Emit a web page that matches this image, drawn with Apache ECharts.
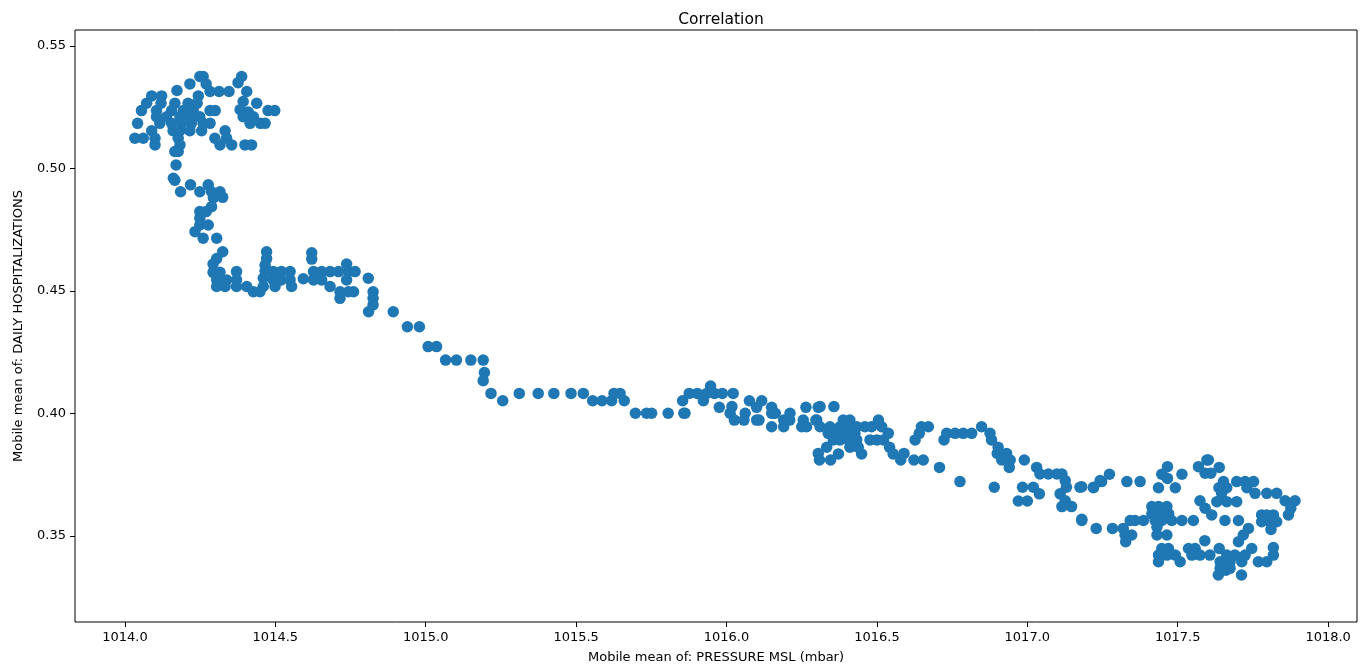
<!DOCTYPE html>
<html>
<head>
<meta charset="utf-8">
<script src="https://cdn.jsdelivr.net/npm/echarts@6/dist/echarts.min.js"></script>
<style>html,body{margin:0;padding:0;background:#fff}#c{width:1366px;height:671px}</style>
</head>
<body>
<div id="c"></div>
<script>
const titleText = "Correlation";
const xName = "Mobile mean of: PRESSURE MSL (mbar)";
const yName = "Mobile mean of: DAILY HOSPITALIZATIONS";
const xTicks = [1014.0, 1014.5, 1015.0, 1015.5, 1016.0, 1016.5, 1017.0, 1017.5, 1018.0];
const yTicks = [0.35, 0.40, 0.45, 0.50, 0.55];

const pressure = [
1014.249,1014.26,1014.216,1014.27,1014.388,1014.376,1014.173,1014.283,1014.313,1014.346,1014.405,
1014.089,1014.122,1014.244,1014.072,1014.12,1014.166,1014.21,1014.24,1014.393,1014.438,
1014.055,1014.105,1014.155,1014.194,1014.227,1014.283,1014.3,1014.383,1014.41,1014.476,1014.498,
1014.105,1014.138,1014.183,1014.216,1014.249,1014.393,1014.427,
1014.042,1014.116,1014.155,1014.188,1014.221,1014.26,1014.283,1014.416,1014.45,1014.466,
1014.089,1014.16,1014.183,1014.216,1014.255,1014.333,
1014.033,1014.061,1014.1,1014.177,1014.299,1014.338,
1014.1,1014.183,1014.316,1014.355,1014.399,1014.421,
1014.177,1014.166,1014.17,1014.161,1014.166,1014.185,1014.218,1014.249,1014.277,1014.288,1014.316,
1014.325,1014.294,1014.288,1014.249,1014.27,1014.249,1014.249,1014.277,1014.233,1014.26,1014.305,
1014.325,1014.305,1014.293,1014.293,1014.316,1014.305,1014.338,1014.305,1014.333,
1014.371,1014.371,1014.371,1014.405,1014.427,1014.449,
1014.471,1014.471,1014.466,1014.466,1014.46,1014.46,1014.493,1014.52,1014.549,1014.493,1014.52,1014.549,1014.499,1014.554,
1014.593,1014.621,1014.621,1014.627,1014.654,1014.682,1014.71,1014.737,1014.743,1014.765,1014.627,1014.654,1014.682,1014.737,
1014.715,1014.715,1014.743,1014.76,1014.809,1014.825,1014.825,1014.825,1014.892,1014.81,
1014.939,1014.979,1015.008,1015.036,1015.066,1015.102,1015.15,1015.191,1015.195,1015.191,1015.217,1015.256,
1015.311,1015.374,1015.426,1015.483,1015.524,1015.555,1015.586,1015.618,1015.626,1015.646,1015.66,
1015.697,1015.734,1015.751,1015.806,1015.854,1015.858,1015.862,1015.876,1015.903,1015.923,1015.934,1015.947,1015.96,1015.986,
1015.976,1016.022,1016.018,1016.012,1016.026,1016.062,1016.058,1016.076,1016.1,1016.117,1016.1,1016.108,
1016.15,1016.15,1016.15,1016.157,1016.162,1016.211,1016.19,1016.21,1016.19,1016.255,1016.264,1016.25,1016.3,1016.305,
1016.311,1016.357,1016.266,1016.297,1016.311,1016.344,1016.338,1016.355,1016.333,1016.305,1016.309,1016.346,1016.372,
1016.388,1016.41,1016.377,1016.405,1016.433,1016.46,1016.482,1016.505,1016.516,1016.366,1016.399,1016.427,1016.538,
1016.377,1016.405,1016.433,1016.477,1016.5,1016.522,1016.41,1016.438,1016.449,1016.542,1016.554,1016.579,1016.59,
1016.623,1016.654,1016.627,1016.641,1016.648,1016.671,1016.708,1016.723,1016.732,1016.76,1016.787,1016.815,1016.776,
1016.848,1016.876,1016.881,1016.903,1016.9,1016.931,1016.915,1016.943,1016.94,1016.89,1016.99,1017.031,1017.042,
1017.07,1017.098,1017.115,1017.126,1017.13,1017.109,1017.126,1017.115,1017.147,1017.175,1017.22,1017.242,1017.181,
1016.984,1017.02,1017.04,1016.97,1017.0,
1017.181,1017.22,1017.247,1017.273,1017.331,1017.375,1017.466,1017.447,1017.466,1017.436,1017.492,1017.514,
1017.569,1017.597,1017.602,1017.591,1017.61,1017.638,1017.652,1017.637,1017.663,1017.646,1017.63,1017.663,1017.696,
1017.696,1017.724,1017.752,1017.73,1017.757,1017.796,1017.829,1017.857,1017.89,1017.876,1017.868,
1017.574,1017.591,1017.613,1017.657,1017.702,1017.779,1017.796,1017.818,1017.779,1017.807,1017.829,1017.81,
1017.414,1017.436,1017.464,1017.414,1017.442,1017.47,1017.425,1017.447,1017.48,1017.514,1017.552,1017.431,1017.431,1017.464,
1017.181,1017.229,1017.283,1017.319,1017.342,1017.358,1017.386,1017.325,1017.347,1017.327,
1017.447,1017.469,1017.436,1017.464,1017.492,1017.436,1017.508,1017.536,1017.558,1017.59,1017.547,1017.574,1017.607,
1017.638,1017.663,1017.69,1017.702,1017.718,1017.735,1017.746,1017.724,1017.768,1017.796,1017.818,1017.818,
1017.641,1017.674,1017.713,1017.641,1017.674,1017.635,1017.712,1017.66
];

const hospitalizations = [
0.5375,0.5375,0.5345,0.5345,0.5375,0.535,0.5318,0.5314,0.5314,0.5314,0.5314,
0.5296,0.5296,0.5296,0.5266,0.5266,0.5266,0.5266,0.5266,0.5273,0.5266,
0.5236,0.5236,0.5236,0.5236,0.5236,0.5236,0.5236,0.524,0.523,0.5236,0.5236,
0.5211,0.5211,0.5211,0.5211,0.5211,0.5211,0.5211,
0.5184,0.5184,0.5184,0.5184,0.5184,0.5184,0.5184,0.5184,0.5184,0.5184,
0.5154,0.5154,0.5154,0.5154,0.5154,0.5154,
0.5123,0.5123,0.5123,0.5123,0.5123,0.5123,
0.5096,0.5096,0.5096,0.5096,0.5096,0.5096,
0.5069,0.5069,0.5014,0.496,0.4952,0.4905,0.4933,0.4905,0.4933,0.4905,0.4905,
0.4882,0.488,0.4844,0.4824,0.4824,0.4797,0.4769,0.4769,0.4742,0.4715,0.4715,
0.466,0.4632,0.461,0.4576,0.4576,0.4545,0.4545,0.4518,0.4518,
0.4579,0.4545,0.4518,0.4518,0.4497,0.4497,
0.466,0.4632,0.4605,0.458,0.4552,0.4518,0.4579,0.4579,0.4579,0.4545,0.4545,0.4545,0.4518,0.4518,
0.455,0.4656,0.463,0.4579,0.4579,0.4579,0.4579,0.461,0.4579,0.4579,0.4545,0.4545,0.4518,0.4545,
0.4497,0.447,0.4497,0.4497,0.4552,0.4497,0.447,0.4443,0.4415,0.4415,
0.4354,0.4354,0.4273,0.4273,0.4218,0.4218,0.4218,0.4218,0.4167,0.4134,0.4082,0.4052,
0.4082,0.4082,0.4082,0.4082,0.4082,0.4052,0.4052,0.4052,0.4082,0.4082,0.4052,
0.4001,0.4001,0.4001,0.4001,0.4052,0.4001,0.4001,0.4082,0.4082,0.4052,0.4082,0.4112,0.4082,0.4082,
0.4025,0.4082,0.4028,0.4001,0.3973,0.4001,0.3973,0.4052,0.4025,0.4052,0.3973,0.3973,
0.4025,0.4001,0.3946,0.4001,0.4001,0.4001,0.3973,0.3973,0.3946,0.3973,0.4025,0.3946,0.3973,0.4025,
0.4028,0.4028,0.3946,0.3973,0.3946,0.3946,0.3919,0.3892,0.3862,0.3837,0.381,0.381,0.3835,
0.3973,0.3973,0.3946,0.3946,0.3946,0.3946,0.3946,0.3973,0.3946,0.3919,0.3919,0.3919,0.3919,
0.3892,0.3892,0.3892,0.3892,0.3892,0.3892,0.3862,0.3862,0.3835,0.3862,0.3835,0.381,0.3837,
0.381,0.381,0.3892,0.3919,0.3946,0.3946,0.378,0.3892,0.3919,0.3919,0.3919,0.3919,0.3722,
0.3946,0.3919,0.3892,0.3862,0.3837,0.3837,0.381,0.381,0.378,0.3699,0.381,0.378,0.3753,
0.3753,0.3753,0.3753,0.3726,0.3699,0.3672,0.3644,0.362,0.362,0.3699,0.3699,0.3726,0.3568,
0.3699,0.3699,0.3672,0.3643,0.3643,
0.3701,0.3697,0.3722,0.3752,0.3722,0.3722,0.3783,0.3752,0.3735,0.3697,0.3697,0.3752,
0.3783,0.381,0.381,0.3756,0.3756,0.378,0.3722,0.3697,0.3697,0.3674,0.364,0.364,0.364,
0.3722,0.3722,0.3722,0.3697,0.3674,0.3674,0.3674,0.3644,0.3644,0.3613,0.3586,
0.3644,0.3613,0.3586,0.3563,0.3563,0.3586,0.3586,0.3586,0.3558,0.3558,0.3558,0.3527,
0.362,0.362,0.362,0.359,0.359,0.359,0.3563,0.3563,0.3563,0.3563,0.3563,0.3536,0.3504,0.3504,
0.3563,0.3531,0.3531,0.3531,0.3563,0.3563,0.3563,0.3504,0.3504,0.3477,
0.3449,0.3449,0.3422,0.3422,0.3422,0.3395,0.3395,0.3449,0.3449,0.3481,0.3422,0.3422,0.3422,
0.3449,0.3422,0.3422,0.3477,0.3504,0.3531,0.3449,0.3422,0.3395,0.3395,0.3422,0.3453,
0.3395,0.3395,0.3395,0.3368,0.3368,0.3341,0.3341,0.336
];

const points = pressure.map((p, i) => [p, hospitalizations[i]]);
const font = "DejaVu Sans";

const chart = echarts.init(document.getElementById('c'), null, {renderer: 'canvas'});
chart.setOption({
  animation: false,
  backgroundColor: '#ffffff',
  title: {
    text: titleText, left: 716, textAlign: 'center', top: 7,
    textStyle: {fontFamily: font, fontSize: 15.5, fontWeight: 'normal', color: '#000'}
  },
  grid: {left: 75, right: 9, top: 30, bottom: 49, show: true, borderColor: '#000', borderWidth: 1, backgroundColor: 'transparent'},
  xAxis: {
    type: 'value', min: 1013.834, max: 1018.096,
    name: xName, nameLocation: 'middle', nameGap: 29,
    nameTextStyle: {fontFamily: font, fontSize: 13, color: '#000'},
    axisLine: {show: false},
    splitLine: {show: false},
    axisTick: {show: true, length: 5, lineStyle: {color: '#000'}, customValues: xTicks},
    axisLabel: {fontFamily: font, fontSize: 13, color: '#000', margin: 9, customValues: xTicks,
      formatter: v => Number(v).toFixed(1)}
  },
  yAxis: {
    type: 'value', min: 0.3149, max: 0.5565,
    name: yName, nameLocation: 'middle', nameGap: 50, nameRotate: 90,
    nameTextStyle: {fontFamily: font, fontSize: 13, color: '#000'},
    axisLine: {show: false},
    splitLine: {show: false},
    axisTick: {show: true, length: 5, lineStyle: {color: '#000'}, customValues: yTicks},
    axisLabel: {fontFamily: font, fontSize: 13, color: '#000', margin: 9, customValues: yTicks,
      formatter: v => Number(v).toFixed(2)}
  },
  series: [{
    type: 'scatter', data: points, symbolSize: 11.5,
    itemStyle: {color: '#1f77b4', opacity: 1}
  }]
});
</script>
</body>
</html>
